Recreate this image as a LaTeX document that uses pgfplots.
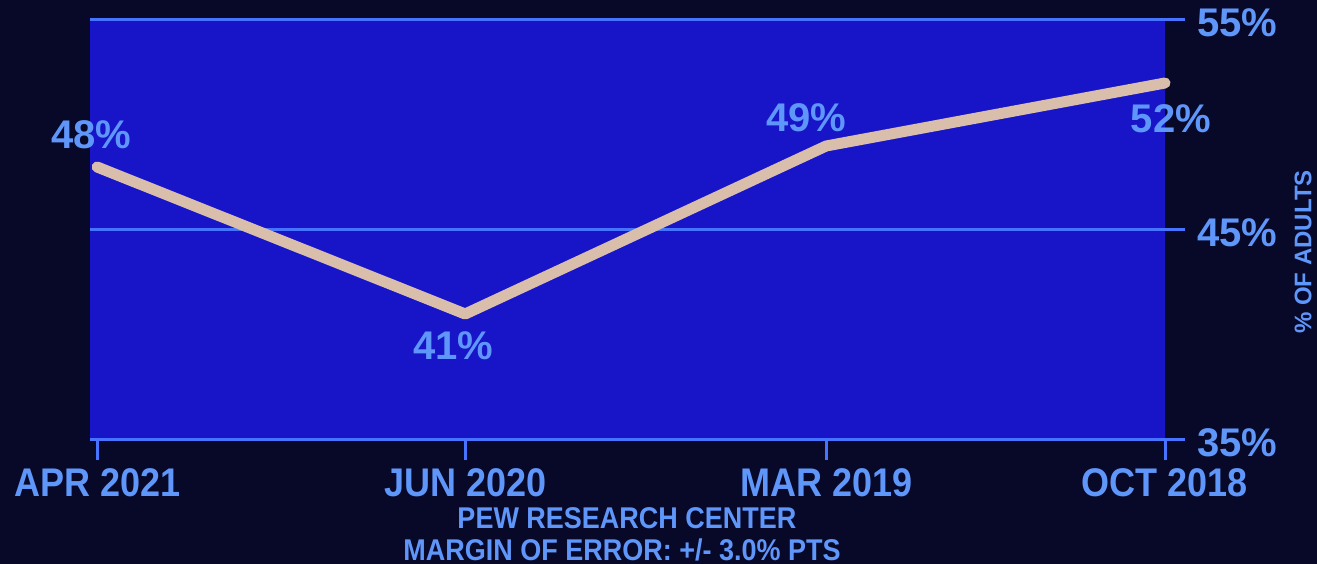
\documentclass[border=0pt]{standalone}
\usepackage{graphicx}
\usepackage{fontspec}
\setmainfont{Liberation Sans}
\usepackage{pgfplots}
\pgfplotsset{compat=1.18}

\definecolor{bgdark}{RGB}{8,8,40}
\definecolor{plotblue}{RGB}{24,20,200}
\definecolor{gridblue}{RGB}{70,115,255}
\definecolor{txtblue}{RGB}{95,150,250}
\definecolor{linebeige}{RGB}{218,190,172}

\begin{document}
\begin{tikzpicture}
\useasboundingbox (0,0) rectangle (658.5bp,282bp);
\fill[bgdark] (0,0) rectangle (658.5bp,282bp);
\begin{axis}[
    at={(45bp,62bp)}, anchor=south west,
    scale only axis, width=537.5bp, height=210bp,
    xmin=-0.02, xmax=3, ymin=35, ymax=55,
    clip=false,
    axis background/.style={fill=plotblue},
    axis x line*=bottom, axis y line*=right,
    x axis line style={draw=gridblue, line width=1.5bp, -},
    y axis line style={draw=none},
    xtick={0,1.034,2.048,3},
    xticklabels={\scalebox{0.9}[1]{APR 2021},\scalebox{0.9}[1]{JUN 2020},
                 \scalebox{0.9}[1]{MAR 2019},\scalebox{0.9}[1]{OCT 2018}},
    ytick={35,45,55},
    yticklabel={\pgfmathprintnumber{\tick}\%},
    /pgf/number format/assume math mode=true,
    ymajorgrids,
    grid style={draw=gridblue, line width=1.5bp},
    tick align=outside,
    major tick length=10bp,
    xtick style={draw=gridblue, line width=1.5bp},
    ytick style={draw=gridblue, line width=1.5bp},
    xticklabel style={font=\fontsize{20bp}{24bp}\selectfont\bfseries, text=txtblue, anchor=north, inner sep=1bp, yshift=-3bp},
    yticklabel style={font=\fontsize{20bp}{24bp}\selectfont\bfseries, text=txtblue, anchor=west, inner sep=1bp, xshift=5bp, yshift=-1.5bp},
]
\addplot[linebeige, line width=5.5bp, line cap=round, line join=round]
    coordinates {(0,48) (1.034,41) (2.048,49) (3,52)};

\node[text=txtblue, font=\fontsize{20bp}{24bp}\selectfont\bfseries, xshift=-3bp, yshift=16bp] at (axis cs:0,48) {48\%};
\node[text=txtblue, font=\fontsize{20bp}{24bp}\selectfont\bfseries, xshift=-6bp, yshift=-16bp] at (axis cs:1.034,41) {41\%};
\node[text=txtblue, font=\fontsize{20bp}{24bp}\selectfont\bfseries, xshift=-10bp, yshift=14bp] at (axis cs:2.048,49) {49\%};
\node[text=txtblue, font=\fontsize{20bp}{24bp}\selectfont\bfseries, xshift=3bp, yshift=-18bp] at (axis cs:3,52) {52\%};
\end{axis}

\node[text=txtblue, font=\fontsize{12bp}{14bp}\selectfont\bfseries, rotate=90] at (651.5bp,156bp) {\% OF ADULTS};
\node[text=txtblue, font=\fontsize{15bp}{18bp}\selectfont\bfseries] at (313.5bp,23bp) {\scalebox{0.9}[1]{PEW RESEARCH CENTER}};
\node[text=txtblue, font=\fontsize{15bp}{18bp}\selectfont\bfseries] at (311bp,7bp) {\scalebox{0.9}[1]{MARGIN OF ERROR: +/- 3.0\% PTS}};
\end{tikzpicture}
\end{document}
